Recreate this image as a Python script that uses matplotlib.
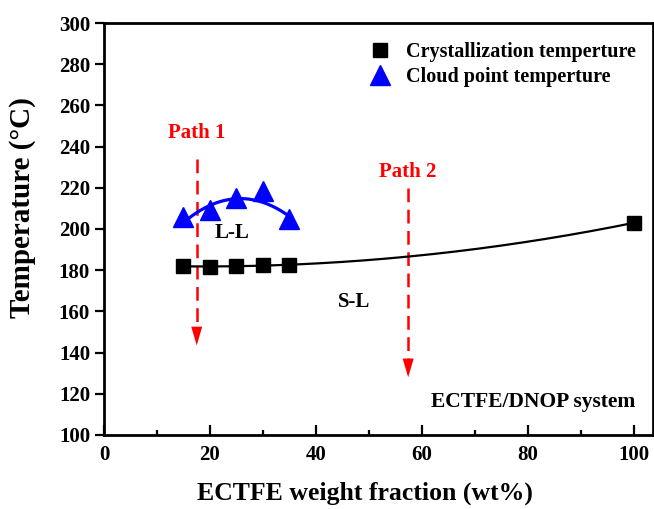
import numpy as np
import matplotlib.pyplot as plt
from matplotlib.ticker import MultipleLocator

plt.rcParams['font.family'] = 'Liberation Serif'
plt.rcParams['font.weight'] = 'bold'

cryst_x = [15, 20, 25, 30, 35, 100]
cryst_y = [182, 181.5, 182, 182.5, 182.5, 203]
cloud_x = [15, 20, 25, 30, 35]
cloud_y = [206, 209, 215, 218.3, 205]

fig = plt.figure(figsize=(6.54, 5.09), dpi=100)
ax = fig.add_axes([0.159, 0.1454, 0.8395, 0.8094])

# fitted curves
pc = np.polyfit(cryst_x, cryst_y, 2)
xc = np.linspace(15, 100, 200)
ax.plot(xc, np.polyval(pc, xc), color='black', lw=1.6, zorder=2)
pb = np.polyfit(cloud_x, cloud_y, 2)
xb = np.linspace(16.2, 34.7, 100)
ax.plot(xb, np.polyval(pb, xb) - 1, color='blue', lw=2.3, zorder=2)

ax.plot(cryst_x, cryst_y, 's', color='black', ms=10.5, label='Crystallization temperture', zorder=3)
ax.plot(cloud_x, cloud_y, '^', color='blue', ms=14, label='Cloud point temperture', zorder=3)

# paths
for x0, y0, y1, lab, ylab in [(17.5, 234, 143.5, 'Path 1', 246.5), (57.4, 220, 128, 'Path 2', 227.5)]:
    ax.plot([x0, x0], [y0, y1 + 5], color='red', lw=1.8, ls=(0, (5.5, 3)), zorder=1)
    ax.annotate('', xy=(x0, y1), xytext=(x0, y1 + 6),
                arrowprops=dict(arrowstyle='-|>,head_length=0.75,head_width=0.22', color='red', lw=0,
                                mutation_scale=18, shrinkA=0, shrinkB=0))
    ax.text(x0, ylab, lab, color='red', fontsize=15, ha='center', va='center', fontweight='bold')

ax.text(24.2, 198, 'L-L', fontsize=15, ha='center', va='center')
ax.text(47.2, 164.5, 'S-L', fontsize=15, ha='center', va='center')
ax.text(100.2, 116, 'ECTFE/DNOP system', fontsize=15.5, ha='right', va='center')

ax.set_xlim(0, 103.6)
ax.set_ylim(100, 300)
ax.xaxis.set_major_locator(MultipleLocator(20))
ax.xaxis.set_minor_locator(MultipleLocator(10))
ax.yaxis.set_major_locator(MultipleLocator(20))
ax.tick_params(axis='x', which='both', direction='in', width=1.6, labelsize=15, pad=7)
ax.tick_params(axis='x', which='major', length=7)
ax.tick_params(axis='x', which='minor', length=3.5)
ax.tick_params(axis='y', which='major', direction='out', width=1.6, length=6.5, labelsize=15)
for s in ax.spines.values():
    s.set_linewidth(2)

ax.set_xlabel('ECTFE weight fraction (wt%)', fontsize=18.5, fontweight='bold')
ax.xaxis.set_label_coords(0.475, -0.112)
ax.set_ylabel('Temperature (°C)', fontsize=21, fontweight='bold')
ax.yaxis.set_label_coords(-0.124, 0.553)

ax.legend(loc='upper left', frameon=False, fontsize=14.5, bbox_to_anchor=(0.433, 0.997),
          handletextpad=0.3, labelspacing=0.25, borderpad=0.4)

fig.savefig('out.png', dpi=100)
